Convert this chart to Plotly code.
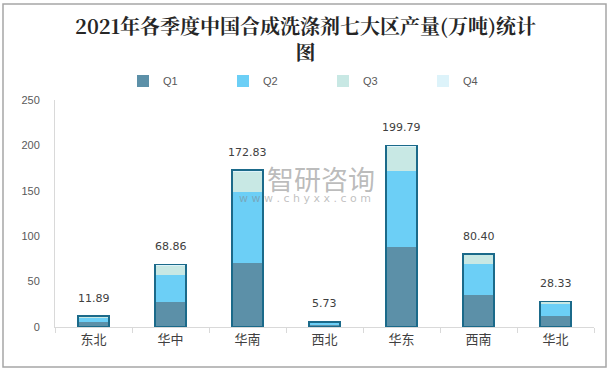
import plotly.graph_objects as go

regions = ["东北", "华中", "华南", "西北", "华东", "西南", "华北"]
q1 = [5.5, 27.5, 70.5, 2.5, 88.0, 35.2, 12.1]
q2 = [5.5, 29.8, 78.5, 2.8, 83.5, 34.5, 13.6]
q3 = [0.5, 10.5, 22.5, 0.3, 27.0, 10.0, 2.2]
q4 = [0.39, 1.06, 1.33, 0.13, 1.29, 0.7, 0.43]
totals = [11.89, 68.86, 172.83, 5.73, 199.79, 80.40, 28.33]
series_names = ["Q1", "Q2", "Q3", "Q4"]
series_colors = ["#5C90A8", "#6CCFF6", "#C8E8E4", "#DDF3FA"]
y_ticks = [0, 50, 100, 150, 200, 250]

fig = go.Figure()
for name, vals, col in zip(series_names, [q1, q2, q3, q4], series_colors):
    fig.add_trace(go.Bar(
        x=regions, y=vals, name=name, width=0.4,
        marker=dict(color=col, line=dict(width=0)),
        xaxis="x", yaxis="y", hoverinfo="skip",
    ))

# outline of whole stack
fig.add_trace(go.Bar(
    x=regions, y=totals, width=0.4, showlegend=False,
    marker=dict(color="rgba(0,0,0,0)", line=dict(color="#1B6A8A", width=1.5)),
    xaxis="x2", yaxis="y", hoverinfo="skip",
))

for r, t in zip(regions, totals):
    fig.add_annotation(x=r, y=t, text=f"{t:.2f}", showarrow=False, yshift=18,
                       xref="x", yref="y",
                       font=dict(family="DejaVu Sans", size=11, color="#404040"))

# watermark
fig.add_annotation(xref="paper", yref="paper", x=(321 - 55) / 539, y=(327 - 178) / 227,
                   text="智研咨询", showarrow=False,
                   font=dict(family="Noto Sans CJK SC", size=27, color="rgba(130,130,130,0.55)"))
fig.add_annotation(xref="paper", yref="paper", x=(305 - 55) / 539, y=(327 - 198) / 227,
                   text="w w w . c h y x x . c o m", showarrow=False,
                   font=dict(family="DejaVu Sans", size=11, color="rgba(130,130,130,0.5)"))

# outer border
fig.add_shape(type="rect", xref="paper", yref="paper",
              x0=(3 - 55) / 539, x1=(606 - 55) / 539,
              y0=(327 - 367) / 227, y1=(327 - 4) / 227,
              line=dict(color="#A6A6A6", width=1.5), fillcolor="rgba(0,0,0,0)", layer="below")

fig.update_layout(
    width=611, height=372,
    margin=dict(l=55, r=17, t=100, b=45),
    paper_bgcolor="white", plot_bgcolor="white",
    barmode="stack",
    title=dict(text="2021年各季度中国合成洗涤剂七大区产量(万吨)统计<br>图",
               x=0.5, xanchor="center", xref="container",
               y=1 - 34 / 372, yanchor="top", yref="container",
               font=dict(family="Noto Serif CJK SC, Noto Sans CJK SC", size=20, color="#262626", weight="bold")),
    legend=dict(orientation="h", x=(123 - 55) / 539, xanchor="left", y=(327 - 81) / 227,
                yanchor="middle", entrywidth=55, entrywidthmode="pixels", traceorder="normal",
                font=dict(family="Liberation Sans", size=11, color="#595959"),
                bgcolor="rgba(0,0,0,0)"),
    xaxis=dict(type="category", categoryorder="array", categoryarray=regions,
               showline=True, linecolor="#D9D9D9", linewidth=1,
               ticks="outside", tickson="boundaries", ticklen=5, tickcolor="#D9D9D9",
               tickfont=dict(family="Noto Sans CJK SC", size=13, color="#404040"),
               showgrid=False, zeroline=False, fixedrange=True),
    xaxis2=dict(type="category", categoryorder="array", categoryarray=regions,
                overlaying="x", matches="x", visible=False),
    yaxis=dict(range=[0, 250], tickvals=y_ticks, showline=True, linecolor="#D9D9D9",
               linewidth=1, ticks="outside", ticklen=12, tickcolor="rgba(0,0,0,0)",
               tickfont=dict(family="Liberation Sans", size=11, color="#595959"),
               showgrid=False, zeroline=False, fixedrange=True),
    showlegend=True,
)

fig.write_html("out.html", config={"displayModeBar": False},
               post_script="document.body.style.margin='0';")
